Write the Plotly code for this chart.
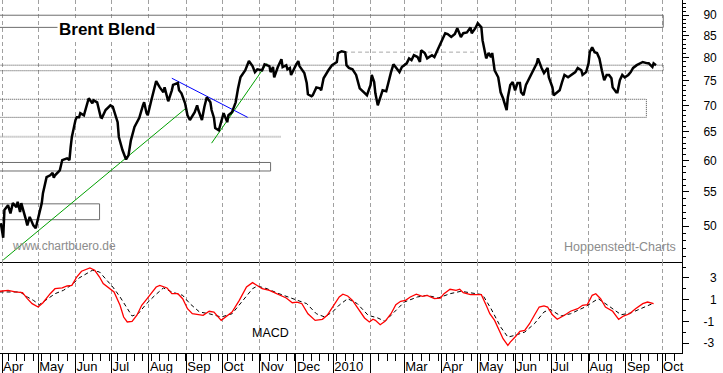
import math
import plotly.graph_objects as go

# ---------------- data ----------------
price_dates = [
    "2009-03-31","2009-04-02","2009-04-03","2009-04-06","2009-04-08","2009-04-10","2009-04-13","2009-04-14","2009-04-16","2009-04-17",
    "2009-04-21","2009-04-22","2009-04-24","2009-04-27","2009-04-29","2009-05-01","2009-05-04","2009-05-05","2009-05-08","2009-05-11",
    "2009-05-13","2009-05-14","2009-05-15","2009-05-19","2009-05-21","2009-05-25","2009-05-27","2009-05-28","2009-05-29","2009-06-01",
    "2009-06-02","2009-06-04","2009-06-05","2009-06-08","2009-06-10","2009-06-12","2009-06-15","2009-06-16","2009-06-19","2009-06-22",
    "2009-06-23","2009-06-26","2009-06-30","2009-07-02","2009-07-06","2009-07-07","2009-07-10","2009-07-13","2009-07-15","2009-07-17",
    "2009-07-20","2009-07-22","2009-07-24","2009-07-27","2009-07-28","2009-07-30","2009-07-31","2009-08-03","2009-08-05","2009-08-07",
    "2009-08-10","2009-08-13","2009-08-14","2009-08-17","2009-08-20","2009-08-21","2009-08-25","2009-08-26","2009-08-28","2009-08-31",
    "2009-09-02","2009-09-04","2009-09-08","2009-09-10","2009-09-11","2009-09-14","2009-09-16","2009-09-18","2009-09-21","2009-09-22",
    "2009-09-24","2009-09-25","2009-09-28","2009-09-30","2009-10-02","2009-10-05","2009-10-06","2009-10-09","2009-10-12","2009-10-14",
    "2009-10-16","2009-10-20","2009-10-22","2009-10-23","2009-10-26","2009-10-28","2009-10-30","2009-11-03","2009-11-05","2009-11-09",
    "2009-11-10","2009-11-12","2009-11-13","2009-11-16","2009-11-19","2009-11-20","2009-11-23","2009-11-24","2009-11-26","2009-11-27",
    "2009-12-01","2009-12-03","2009-12-04","2009-12-08","2009-12-10","2009-12-11","2009-12-14","2009-12-15","2009-12-18","2009-12-21",
    "2009-12-22","2009-12-24","2009-12-28","2009-12-31","2010-01-04","2010-01-05","2010-01-08","2010-01-11","2010-01-12","2010-01-14",
    "2010-01-17","2010-01-20","2010-01-23","2010-01-27","2010-01-29","2010-02-01","2010-02-02","2010-02-04","2010-02-05","2010-02-07",
    "2010-02-09","2010-02-11","2010-02-14","2010-02-16","2010-02-18","2010-02-20","2010-02-23","2010-02-25","2010-02-27","2010-03-03",
    "2010-03-05","2010-03-07","2010-03-09","2010-03-12","2010-03-14","2010-03-15","2010-03-18","2010-03-20","2010-03-24","2010-03-26",
    "2010-03-29","2010-04-01","2010-04-04","2010-04-06","2010-04-09","2010-04-12","2010-04-14","2010-04-17","2010-04-19","2010-04-22",
    "2010-04-25","2010-04-26","2010-04-29","2010-05-01","2010-05-04","2010-05-05","2010-05-07","2010-05-08","2010-05-10","2010-05-12",
    "2010-05-13","2010-05-15","2010-05-18","2010-05-20","2010-05-22","2010-05-24","2010-05-25","2010-05-26","2010-05-28","2010-05-30",
    "2010-06-01","2010-06-03","2010-06-05","2010-06-06","2010-06-08","2010-06-10","2010-06-12","2010-06-15","2010-06-17","2010-06-19",
    "2010-06-20","2010-06-22","2010-06-23","2010-06-25","2010-06-28","2010-06-29","2010-07-02","2010-07-03","2010-07-06","2010-07-08",
    "2010-07-10","2010-07-12","2010-07-15","2010-07-18","2010-07-21","2010-07-23","2010-07-26","2010-07-27","2010-07-30","2010-08-01",
    "2010-08-02","2010-08-04","2010-08-06","2010-08-08","2010-08-10","2010-08-12","2010-08-14","2010-08-16","2010-08-18","2010-08-20",
    "2010-08-21","2010-08-24","2010-08-25","2010-08-27","2010-08-29","2010-08-31","2010-09-03","2010-09-05","2010-09-07","2010-09-10",
    "2010-09-13","2010-09-15","2010-09-19","2010-09-20","2010-09-23","2010-09-24","2010-09-26",
]
price_values = [
    50.4, 48.4, 52.3, 53.0, 51.8, 53.3, 52.7, 53.5, 52.0, 53.3,
    50.8, 50.1, 51.3, 50.1, 49.7, 51.3, 53.3, 54.8, 57.3, 57.6,
    58.0, 57.2, 57.6, 58.4, 60.1, 60.4, 60.1, 62.3, 64.1, 67.2,
    67.7, 67.7, 68.5, 68.1, 69.7, 71.4, 70.4, 71.0, 70.6, 67.7,
    67.6, 69.1, 70.0, 69.7, 66.8, 64.1, 61.8, 60.2, 60.9, 63.5,
    65.9, 66.8, 67.6, 70.0, 70.6, 68.5, 68.1, 71.0, 73.0, 74.9,
    73.6, 72.6, 73.6, 70.8, 73.0, 74.1, 74.5, 73.0, 72.4, 70.4,
    68.1, 67.2, 68.7, 70.0, 69.1, 67.2, 69.7, 71.6, 70.6, 69.1,
    67.6, 65.7, 65.3, 66.8, 68.5, 66.8, 68.1, 68.7, 70.6, 73.4,
    75.7, 77.2, 78.7, 79.2, 78.1, 76.8, 77.4, 77.2, 78.5, 78.1,
    76.8, 77.9, 75.7, 77.9, 79.6, 77.9, 78.3, 77.4, 77.7, 76.2,
    78.3, 79.2, 78.1, 76.6, 74.5, 72.2, 71.8, 72.0, 73.6, 73.4,
    73.0, 75.5, 77.2, 78.3, 79.0, 81.0, 81.4, 81.2, 78.3, 77.7,
    77.4, 76.2, 73.4, 72.4, 72.0, 74.1, 76.2, 74.7, 72.4, 70.0,
    71.4, 73.0, 72.8, 75.1, 76.8, 78.5, 77.4, 76.8, 77.9, 78.7,
    79.8, 79.4, 80.5, 80.1, 79.0, 81.6, 81.0, 79.8, 80.5, 80.1,
    81.9, 83.7, 85.6, 85.4, 84.7, 85.4, 86.8, 84.7, 85.6, 85.8,
    87.0, 85.6, 86.8, 88.0, 87.0, 83.9, 81.6, 79.8, 81.0, 80.1,
    81.0, 77.2, 75.7, 72.6, 71.4, 69.7, 69.1, 71.6, 74.1, 74.7,
    73.0, 74.5, 74.5, 72.6, 72.0, 74.1, 75.1, 76.6, 77.9, 78.7,
    79.8, 78.3, 77.7, 76.6, 77.7, 75.7, 73.6, 72.0, 72.6, 73.0,
    74.7, 76.2, 75.7, 76.2, 76.8, 77.7, 77.2, 76.2, 76.8, 78.7,
    81.2, 82.3, 81.2, 81.0, 79.8, 77.2, 75.1, 76.2, 76.2, 75.5,
    73.6, 72.6, 72.6, 75.1, 76.2, 75.7, 76.2, 76.8, 77.7, 78.3,
    78.7, 79.0, 78.7, 78.7, 77.9, 78.7, 78.3,
]

macd_dates = [
    "2009-03-30","2009-04-06","2009-04-12","2009-04-18","2009-04-22","2009-04-26","2009-05-01","2009-05-05","2009-05-11","2009-05-15",
    "2009-05-21","2009-05-25","2009-05-29","2009-06-02","2009-06-06","2009-06-10","2009-06-13","2009-06-17","2009-06-21","2009-06-24",
    "2009-06-29","2009-07-03","2009-07-08","2009-07-11","2009-07-14","2009-07-18","2009-07-22","2009-07-26","2009-07-30","2009-08-03",
    "2009-08-07","2009-08-10","2009-08-16","2009-08-20","2009-08-25","2009-08-29","2009-09-02","2009-09-06","2009-09-12","2009-09-15",
    "2009-09-20","2009-09-24","2009-09-30","2009-10-04","2009-10-09","2009-10-15","2009-10-21","2009-10-26","2009-10-30","2009-11-03",
    "2009-11-09","2009-11-15","2009-11-19","2009-11-23","2009-11-28","2009-12-02","2009-12-06","2009-12-11","2009-12-17","2009-12-23",
    "2009-12-27","2010-01-01","2010-01-06","2010-01-09","2010-01-13","2010-01-17","2010-01-23","2010-01-27","2010-01-31","2010-02-03",
    "2010-02-05","2010-02-09","2010-02-13","2010-02-18","2010-02-22","2010-02-26","2010-03-02","2010-03-06","2010-03-11","2010-03-16",
    "2010-03-20","2010-03-26","2010-03-31","2010-04-03","2010-04-08","2010-04-13","2010-04-16","2010-04-19","2010-04-25","2010-05-01",
    "2010-05-04","2010-05-08","2010-05-11","2010-05-15","2010-05-19","2010-05-22","2010-05-26","2010-05-28","2010-06-01","2010-06-05",
    "2010-06-09","2010-06-13","2010-06-17","2010-06-21","2010-06-25","2010-06-28","2010-07-02","2010-07-06","2010-07-12","2010-07-17",
    "2010-07-23","2010-07-27","2010-07-31","2010-08-04","2010-08-07","2010-08-11","2010-08-15","2010-08-21","2010-08-26","2010-08-30",
    "2010-09-04","2010-09-09","2010-09-15","2010-09-19","2010-09-24",
]
macd_values = [
    1.77, 1.86, 1.71, 1.65, 1.09, 0.63, 0.32, 0.72, 1.55, 2.01,
    2.08, 2.26, 2.32, 3.09, 3.62, 3.80, 3.92, 3.71, 3.09, 2.48,
    2.08, 1.71, 0.48, -0.60, -1.06, -1.00, -0.44, 0.48, 1.03, 1.55,
    2.17, 2.32, 2.08, 1.55, 1.55, 1.09, 0.17, -0.30, -0.39, -0.44,
    -0.07, -0.14, -0.91, -0.60, -0.14, 0.94, 2.17, 2.57, 2.26, 2.01,
    1.86, 1.55, 1.40, 1.15, 0.72, 0.78, 0.63, -0.30, -0.91, -0.81,
    -0.44, 0.42, 1.25, 1.50, 1.34, 0.94, 0.02, -0.69, -1.06, -0.81,
    -0.91, -1.31, -1.00, -0.30, 0.54, 0.85, 0.94, 1.25, 1.50, 1.31,
    1.40, 1.09, 1.15, 1.55, 1.96, 1.86, 1.96, 1.64, 1.46, 1.50,
    1.46, 0.48, -0.30, -0.91, -1.83, -2.60, -3.21, -2.91, -2.45, -1.92,
    -1.83, -1.22, -0.44, 0.32, 0.42, 0.32, -0.39, -0.81, -0.44, -0.07,
    0.17, 0.48, 0.54, 1.40, 1.55, 1.09, 0.32, -0.07, -0.81, -0.51,
    -0.30, 0.17, 0.63, 0.78, 0.63,
]

signal_dates = [
    "2009-03-30","2009-04-16","2009-04-22","2009-04-27","2009-05-02","2009-05-08","2009-05-15","2009-05-22","2009-05-29","2009-06-04",
    "2009-06-10","2009-06-15","2009-06-21","2009-06-27","2009-07-02","2009-07-08","2009-07-14","2009-07-18","2009-07-23","2009-07-30",
    "2009-08-06","2009-08-13","2009-08-20","2009-08-29","2009-09-04","2009-09-12","2009-09-20","2009-09-30","2009-10-09","2009-10-18",
    "2009-10-26","2009-10-30","2009-11-07","2009-11-17","2009-11-28","2009-12-10","2009-12-18","2009-12-25","2010-01-01","2010-01-06",
    "2010-01-13","2010-01-21","2010-01-30","2010-02-07","2010-02-13","2010-02-21","2010-03-01","2010-03-12","2010-03-20","2010-03-29",
    "2010-04-08","2010-04-17","2010-04-28","2010-05-05","2010-05-12","2010-05-20","2010-05-26","2010-06-01","2010-06-09","2010-06-17",
    "2010-06-25","2010-06-30","2010-07-09","2010-07-17","2010-07-29","2010-08-09","2010-08-17","2010-08-28","2010-09-05","2010-09-17",
    "2010-09-23",
]
signal_values = [
    1.71, 1.71, 1.25, 0.94, 0.54, 1.03, 1.55, 1.86, 2.38, 3.00,
    3.40, 3.71, 3.55, 2.79, 2.17, 1.25, 0.17, -0.51, -0.30, 0.63,
    1.40, 2.08, 1.71, 1.40, 0.63, -0.14, -0.30, -0.60, -0.30, 0.94,
    2.01, 2.26, 2.01, 1.55, 1.09, 0.63, -0.30, -0.60, -0.07, 0.50,
    1.09, 0.63, -0.44, -0.69, -1.00, -0.14, 0.78, 1.25, 1.40, 1.15,
    1.55, 1.77, 1.55, 1.46, 0.17, -1.52, -2.45, -2.29, -1.99, -1.22,
    -0.14, 0.11, -0.51, -0.30, 0.32, 1.09, 0.48, -0.39, -0.23, 0.32,
    0.63,
]

# support / resistance zones (price bands)
X_START = "2009-03-30 08:00"
X_END = "2010-10-17 14:00"
ZONE_START = "2009-03-20"
zone_low = [87.0, 77.1, 67.7, 58.3, 50.9]
zone_high = [90.0, 78.3, 71.2, 59.7, 53.2]
zone_end = ["2010-10-02", "2010-10-02", "2010-09-18", "2009-11-10", "2009-06-21"]
zone_dash = ["solid", "1px,1px", "1px,1px", "solid", "solid"]
zone_color = ["#6e6e6e", "#4a4a4a", "#4a4a4a", "#6e6e6e", "#6e6e6e"]

# single horizontal levels
level_price = [64.15, 81.2]
level_start = [ZONE_START, "2010-01-10"]
level_end = ["2009-11-19", "2010-04-30"]

# trend lines (two end points each)
trend_dates = [["2009-04-02", "2009-09-01"], ["2009-09-22", "2009-11-07"], ["2009-08-20", "2009-10-22"]]
trend_prices = [[45.5, 69.5], [63.0, 78.7], [75.5, 67.7]]
trend_colors = ["#00a000", "#00a000", "#0000ff"]

# axis ticks
month_ticks = ["2009-04-01","2009-05-01","2009-06-01","2009-07-01","2009-08-01","2009-09-01","2009-10-01",
               "2009-11-01","2009-12-01","2010-01-01","2010-02-01","2010-03-01","2010-04-01","2010-05-01",
               "2010-06-01","2010-07-01","2010-08-01","2010-09-01","2010-10-01"]
month_labels = ["Apr","May","Jun","Jul","Aug","Sep","Oct","Nov","Dec","2010","","Mar","Apr","May",
                "Jun","Jul","Aug","Sep","Oct"]
price_ticks = [50, 55, 60, 65, 70, 75, 80, 85, 90]
price_minor = list(range(46, 94))
macd_ticks = [3, 1, -1, -3]
macd_tick_labels = ["\u20073", "\u20071", "-1", "-3"]
macd_minor = [-4, -3, -2, -1, 0, 1, 2, 3, 4]

# ---------------- figure ----------------
FONT = "Liberation Sans, Arial, sans-serif"
fig = go.Figure()

for lo, hi, end, dash, col in zip(zone_low, zone_high, zone_end, zone_dash, zone_color):
    fig.add_trace(go.Scatter(
        x=[ZONE_START, end, end, ZONE_START, ZONE_START], y=[lo, lo, hi, hi, lo],
        mode="lines", line=dict(color=col, width=1, dash=dash),
        hoverinfo="skip", showlegend=False, xaxis="x", yaxis="y"))

fig.add_trace(go.Scatter(x=[level_start[0], level_end[0]], y=[level_price[0]] * 2, mode="lines",
                         line=dict(color="#a8a8a8", width=2, dash="1px,1px"),
                         hoverinfo="skip", showlegend=False, xaxis="x", yaxis="y"))
fig.add_trace(go.Scatter(x=[level_start[1], level_end[1]], y=[level_price[1]] * 2, mode="lines",
                         line=dict(color="#a8a8a8", width=1, dash="4px,3px"),
                         hoverinfo="skip", showlegend=False, xaxis="x", yaxis="y"))

for d, p, c in zip(trend_dates, trend_prices, trend_colors):
    fig.add_trace(go.Scatter(x=d, y=p, mode="lines", line=dict(color=c, width=1),
                             hoverinfo="skip", showlegend=False, xaxis="x", yaxis="y"))

fig.add_trace(go.Scatter(x=price_dates, y=price_values, mode="lines",
                         line=dict(color="black", width=2.5), showlegend=False,
                         xaxis="x", yaxis="y"))

fig.add_trace(go.Scatter(x=signal_dates, y=signal_values, mode="lines",
                         line=dict(color="black", width=1, dash="4px,3px"), showlegend=False,
                         xaxis="x2", yaxis="y2"))
fig.add_trace(go.Scatter(x=macd_dates, y=macd_values, mode="lines",
                         line=dict(color="#ff0000", width=1.3), showlegend=False,
                         xaxis="x2", yaxis="y2"))

grid = dict(showgrid=True, gridcolor="#a0a0a0", gridwidth=1, griddash="4px,3px")
SPLIT = (353 - 261.5) / 353.0

fig.update_layout(
    width=723, height=373,
    margin=dict(l=0, r=41, t=0, b=20, autoexpand=False),
    paper_bgcolor="white", plot_bgcolor="white",
    showlegend=False,
    xaxis=dict(domain=[0, 1], anchor="y", range=[X_START, X_END], type="date",
               tickmode="array", tickvals=month_ticks, ticktext=month_labels,
               showticklabels=False, ticks="", showline=True, linecolor="black", linewidth=1,
               zeroline=False, matches="x2", automargin=False, **grid),
    yaxis=dict(domain=[SPLIT, 1], anchor="x", side="right", type="log",
               range=[math.log10(45.3), math.log10(93.9)],
               tickmode="array", tickvals=price_ticks, ticktext=[str(v) for v in price_ticks],
               ticks="outside", ticklen=6, tickcolor="black",
               minor=dict(tickmode="array", tickvals=price_minor, ticks="outside", ticklen=3,
                          tickcolor="black", showgrid=False),
               showline=True, linecolor="black", linewidth=1, showgrid=False, zeroline=False,
               automargin=False,
               tickfont=dict(family=FONT, size=12, color="black"), ticklabelstandoff=12),
    xaxis2=dict(domain=[0, 1], anchor="y2", range=[X_START, X_END], type="date",
                tickmode="array", tickvals=month_ticks, ticktext=month_labels,
                ticks="outside", ticklen=20, tickcolor="black",
                ticklabelposition="outside right", ticklabelstandoff=1,
                minor=dict(dtick=7 * 86400000, tick0="2009-04-06", ticks="outside", ticklen=7,
                           tickcolor="black", showgrid=False),
                showline=True, linecolor="black", linewidth=1, zeroline=False, automargin=False,
                tickfont=dict(family=FONT, size=13, color="black"), **grid),
    yaxis2=dict(domain=[0, SPLIT], anchor="x2", side="right", range=[-3.92, 4.52],
                tickmode="array", tickvals=macd_ticks, ticktext=macd_tick_labels,
                ticks="outside", ticklen=6, tickcolor="black",
                minor=dict(tickmode="array", tickvals=macd_minor, ticks="outside", ticklen=3,
                           tickcolor="black", showgrid=False),
                showline=True, linecolor="black", linewidth=1, showgrid=False, zeroline=False,
                automargin=False,
                tickfont=dict(family=FONT, size=12, color="black"), ticklabelstandoff=12),
    annotations=[
        dict(text="<b>Brent Blend</b>", xref="paper", yref="paper", x=106.5 / 682, y=1 - 29 / 353.0,
             xanchor="center", yanchor="middle", showarrow=False, bgcolor="white",
             font=dict(family=FONT, size=17, color="black")),
        dict(text="www.chartbuero.de", xref="paper", yref="paper", x=10 / 682, y=(353 - 246) / 353.0,
             xanchor="left", yanchor="middle", showarrow=False,
             font=dict(family=FONT, size=12, color="#8c8c8c")),
        dict(text="Hoppenstedt-Charts", xref="paper", yref="paper", x=678 / 682, y=(353 - 247) / 353.0,
             xanchor="right", yanchor="middle", showarrow=False,
             font=dict(family=FONT, size=12.5, color="#8c8c8c")),
        dict(text="MACD", xref="paper", yref="paper", x=250 / 682, y=(353 - 333) / 353.0,
             xanchor="left", yanchor="middle", showarrow=False,
             font=dict(family=FONT, size=12.5, color="black")),
    ],
)

fig.write_html("out.html", config={"displayModeBar": False},
               post_script="document.body.style.margin='0px';document.body.style.overflow='hidden';")
